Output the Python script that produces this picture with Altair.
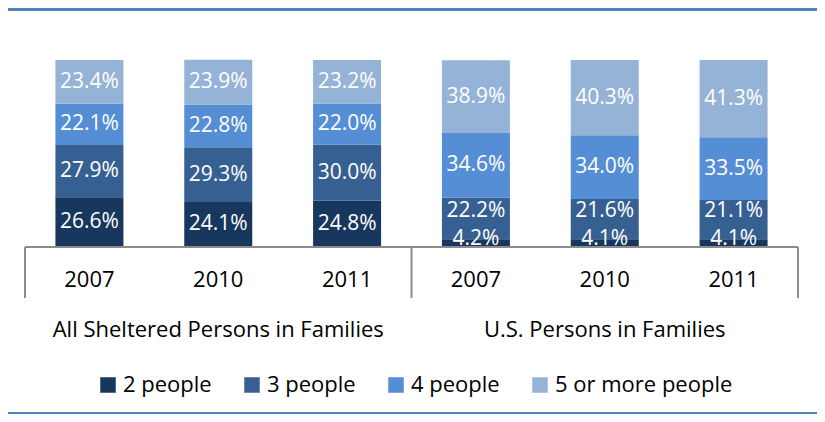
import altair as alt
import pandas as pd

sizes = ["2 people", "3 people", "4 people", "5 or more people"]
groups = ["All Sheltered Persons in Families", "U.S. Persons in Families"]
years = ["2007", "2010", "2011"]
two_people = [26.6, 24.1, 24.8, 4.2, 4.1, 4.1]
three_people = [27.9, 29.3, 30.0, 22.2, 21.6, 21.1]
four_people = [22.1, 22.8, 22.0, 34.6, 34.0, 33.5]
five_plus = [23.4, 23.9, 23.2, 38.9, 40.3, 41.3]
colors = ["#17375E", "#376092", "#558ED5", "#95B3D7"]

series = [two_people, three_people, four_people, five_plus]
n_years = len(years)
n_bars = len(groups) * n_years

rows = []
for i in range(n_bars):
    for k, s in enumerate(sizes):
        rows.append({"idx": i, "group": groups[i // n_years], "year": years[i % n_years],
                     "size": s, "order": k, "value": series[k][i]})
df = pd.DataFrame(rows)

df_years = pd.DataFrame({"idx": list(range(n_bars)),
                         "year": [years[i % n_years] for i in range(n_bars)]})
df_groups = pd.DataFrame({"center": [g * n_years + (n_years - 1) / 2 for g in range(len(groups))],
                          "group": groups})
df_edges = pd.DataFrame({"edge": [g * n_years - 0.5 for g in range(len(groups) + 1)]})
df_axis = pd.DataFrame({"x0": [-0.5], "x1": [n_bars - 0.5], "v": [0]})

FONT = "Open Sans"
xscale = alt.Scale(domain=[-0.5, n_bars - 0.5], nice=False, zero=False)
yscale = alt.Scale(domain=[0, 100], nice=False)

# label placement: centred in the segment, nudged like Excel for very thin segments
base = alt.Chart(df).transform_stack(
    stack="value", groupby=["idx"], as_=["y0", "y1"], sort=[alt.SortField("order")]
).transform_calculate(
    mid="(datum.y0 > 0 && datum.y0 < 8) ? max((datum.y0 + datum.y1) / 2, datum.y0 + 15)"
        " : max((datum.y0 + datum.y1) / 2, 4.5)",
    label="format(datum.value, '.1f') + '%'"
)

bars = base.mark_bar(size=68).encode(
    x=alt.X("idx:Q", scale=xscale, axis=None),
    y=alt.Y("y0:Q", scale=yscale, axis=None),
    y2="y1:Q",
    color=alt.Color("size:N", scale=alt.Scale(domain=sizes, range=colors),
                    legend=alt.Legend(title=None, orient="none", legendX=77, legendY=314,
                                      direction="horizontal", symbolType="square",
                                      symbolSize=240, symbolStrokeWidth=0, symbolOpacity=1,
                                      labelFontSize=22, labelFont=FONT, labelColor="black",
                                      labelLimit=400, labelOffset=4, columnPadding=29,
                                      padding=0)),
)

labels = base.mark_text(color="white", fontSize=21, font=FONT, baseline="middle",
                        align="center").encode(
    x=alt.X("idx:Q", scale=xscale, axis=None),
    y=alt.Y("mid:Q", scale=yscale, axis=None),
    text="label:N",
)

axis_line = alt.Chart(df_axis).mark_rule(color="#8C8C8C", strokeWidth=2).encode(
    x=alt.X("x0:Q", scale=xscale, axis=None),
    x2="x1:Q",
    y=alt.Y("v:Q", scale=yscale, axis=None),
)

edges = alt.Chart(df_edges).mark_rule(color="#8C8C8C", strokeWidth=2).encode(
    x=alt.X("edge:Q", scale=xscale, axis=None),
    y=alt.value(187),
    y2=alt.value(238),
)

year_text = alt.Chart(df_years).mark_text(fontSize=22, font=FONT, color="black",
                                          baseline="middle").encode(
    x=alt.X("idx:Q", scale=xscale, axis=None),
    y=alt.value(220),
    text="year:N",
)

group_text = alt.Chart(df_groups).mark_text(fontSize=22, font=FONT, color="black",
                                            baseline="middle").encode(
    x=alt.X("center:Q", scale=xscale, axis=None),
    y=alt.value(270),
    text="group:N",
)

top_line = alt.Chart(df_axis).mark_rule(color="#4F81BD", strokeWidth=3).encode(
    x=alt.value(-12), x2=alt.value(797), y=alt.value(-50.5)
)
bottom_line = alt.Chart(df_axis).mark_rule(color="#4F81BD", strokeWidth=2).encode(
    x=alt.value(-12), x2=alt.value(797), y=alt.value(353)
)

chart = alt.layer(
    bars, labels, axis_line, edges, year_text, group_text, top_line, bottom_line
).properties(
    width=783, height=187,
    autosize=alt.AutoSizeParams(type="none"),
    padding={"left": 12, "top": 52, "right": 14, "bottom": 167},
).configure_view(strokeWidth=0)

chart.save("out.html", embed_options={"renderer": "svg", "actions": False})
